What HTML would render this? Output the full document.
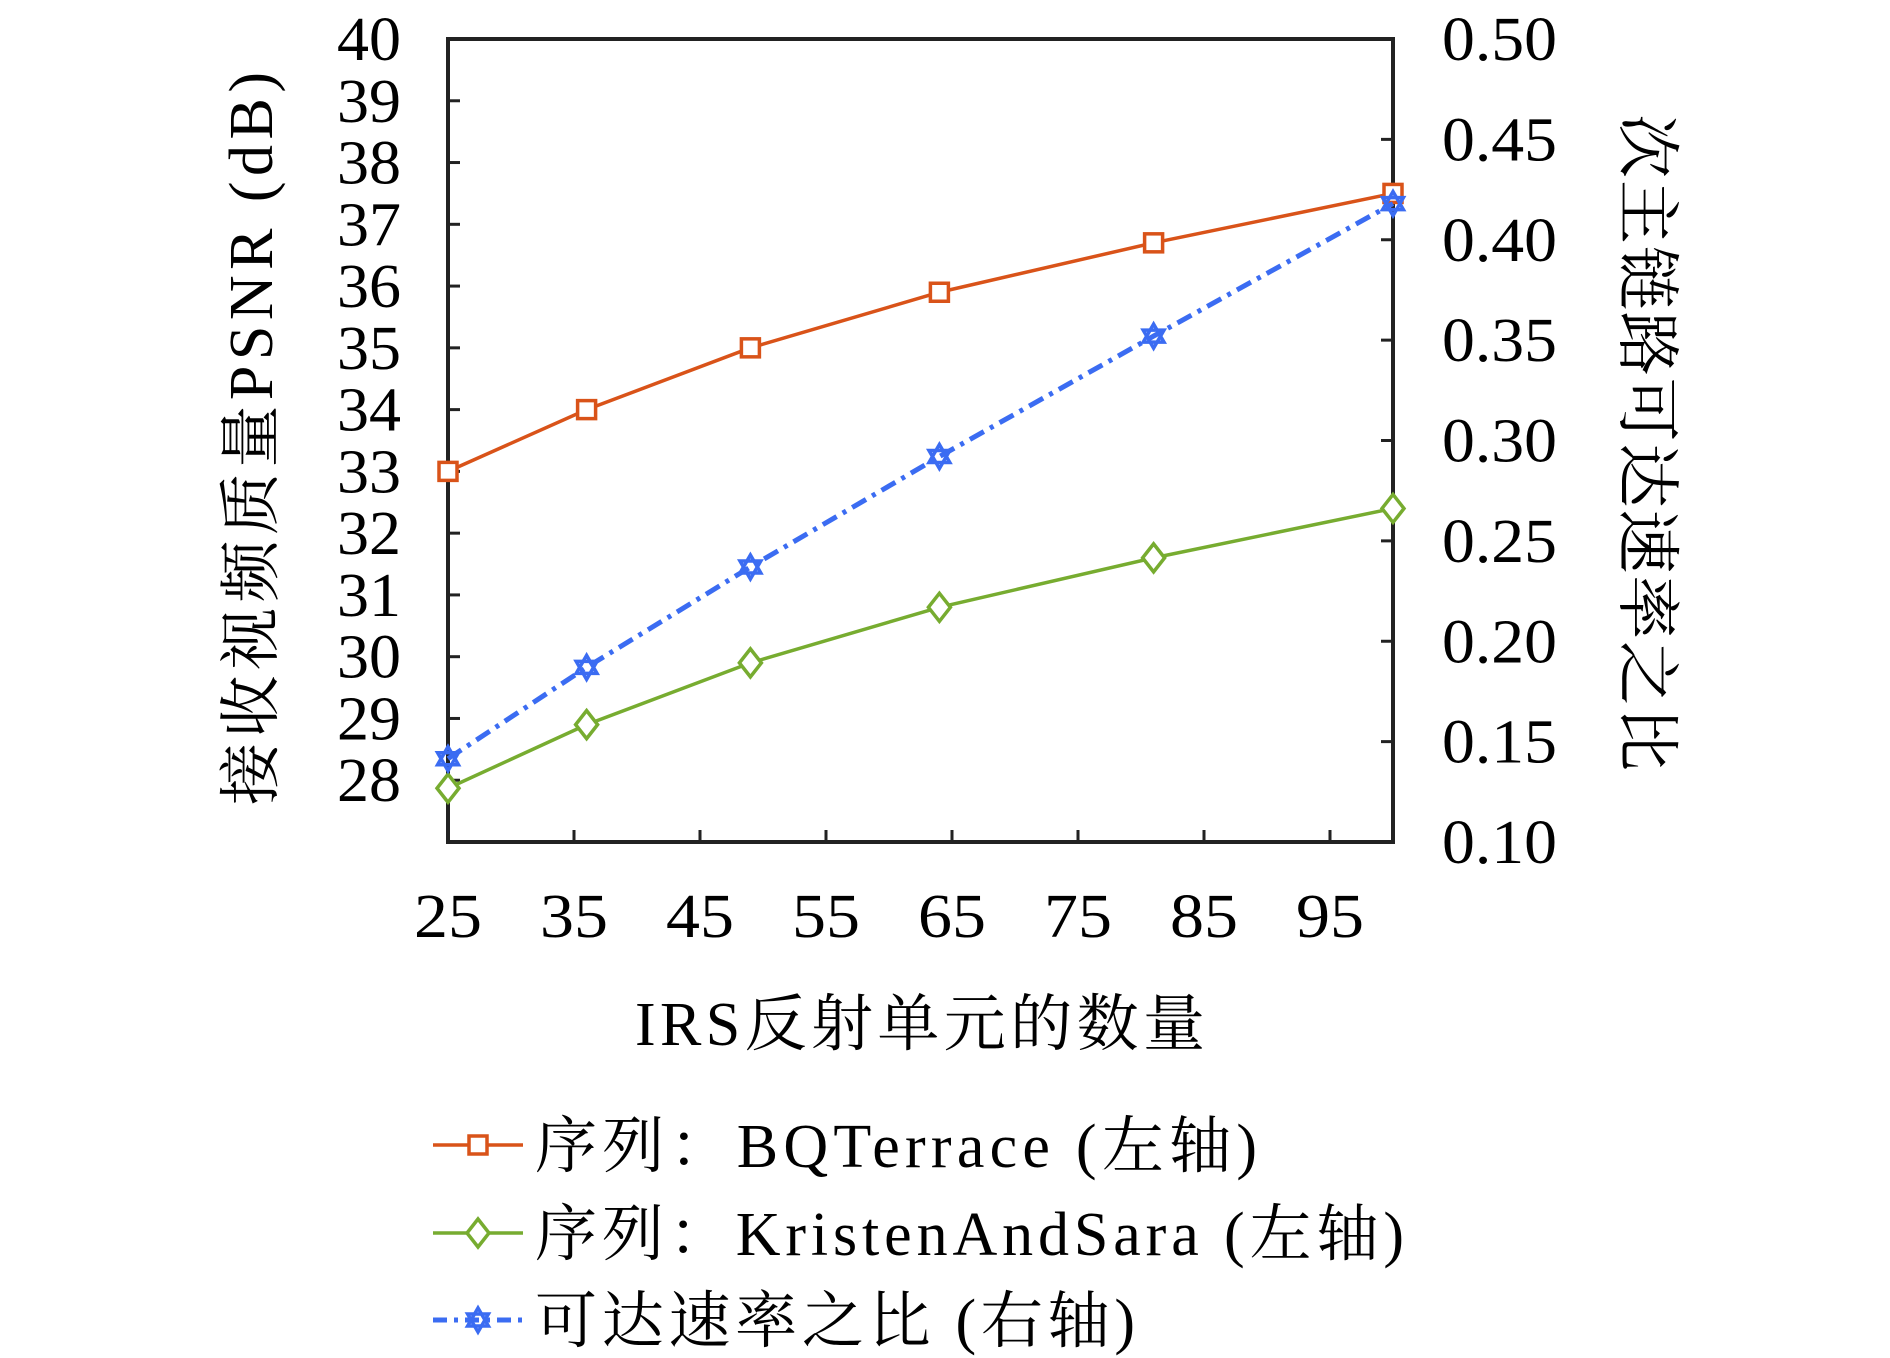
<!DOCTYPE html>
<html><head><meta charset="utf-8"><style>
html,body{margin:0;padding:0;background:#fff;}
svg{display:block;}
text{font-family:"Liberation Serif","Noto Serif CJK SC",serif;fill:#000;}
</style></head><body>
<svg id="chart" width="1890" height="1358" viewBox="0 0 1890 1358" xmlns="http://www.w3.org/2000/svg">
</svg>
<script>
const xValues=[25,36,49,64,81,100];
const bqValues=[33.0,34.0,35.0,35.9,36.7,37.5];
const ksValues=[27.87,28.9,29.9,30.8,31.6,32.4];
const rateValues=[0.1415,0.187,0.237,0.292,0.352,0.418];
const xTicks=[25,35,45,55,65,75,85,95];
const leftTicks=[27,28,29,30,31,32,33,34,35,36,37,38,39,40];
const leftLabels=["","28","29","30","31","32","33","34","35","36","37","38","39","40"];
const rightTicks=[0.10,0.15,0.20,0.25,0.30,0.35,0.40,0.45,0.50];
const rightLabels=["0.10","0.15","0.20","0.25","0.30","0.35","0.40","0.45","0.50"];

const L=448,R=1393,T=39,B=842;
const sx=v=>L+(v-25)/(100-25)*(R-L);
const syL=v=>B-(v-27)/(40-27)*(B-T);
const syR=v=>B-(v-0.10)/(0.50-0.10)*(B-T);
const NS="http://www.w3.org/2000/svg";
const svg=document.getElementById('chart');
function mk(tag,attrs,parent){const e=document.createElementNS(NS,tag);for(const k in attrs)e.setAttribute(k,attrs[k]);(parent||svg).appendChild(e);return e;}
const C_BQ="#D95319",C_KS="#77AC30",C_R="#3B6CF2";

const box=mk('rect',{x:L,y:T,width:R-L,height:B-T,fill:'none',stroke:'#222','stroke-width':4});



xTicks.forEach(v=>{
  const l=mk('line',{x1:sx(v),x2:sx(v),y1:B,y2:B-12,stroke:'#222','stroke-width':3});
  
  
  const t=mk('text',{x:sx(v),y:937,'font-size':62,'text-anchor':'middle',textLength:68,lengthAdjust:'spacingAndGlyphs'});
  
  
  t.textContent=v;
});
leftTicks.forEach((v,i)=>{
  const l=mk('line',{x1:L,x2:L+12,y1:syL(v),y2:syL(v),stroke:'#222','stroke-width':3});
  
  
  if(leftLabels[i]){
    const t=mk('text',{x:401,y:syL(v)+21,'font-size':62,'text-anchor':'end',textLength:64,lengthAdjust:'spacingAndGlyphs'});
    
    
    t.textContent=leftLabels[i];
  }
});
rightTicks.forEach((v,i)=>{
  const l=mk('line',{x1:R,x2:R-12,y1:syR(v),y2:syR(v),stroke:'#222','stroke-width':3});
  
  
  const t=mk('text',{x:1442,y:syR(v)+21,'font-size':62,'text-anchor':'start',textLength:115,lengthAdjust:'spacingAndGlyphs'});
  
  
  t.textContent=rightLabels[i];
});

function square(x,y,c,name){const e=mk('rect',{x:x-9,y:y-9,width:18,height:18,fill:'#fff',stroke:c,'stroke-width':3.5});}
function diamond(x,y,c,name){const e=mk('polygon',{points:`${x},${y-14} ${x+11},${y} ${x},${y+14} ${x-11},${y}`,fill:'#fff',stroke:c,'stroke-width':3.5});}
function star(x,y,c,name){const r=12;const p1=[0,1,2].map(k=>{const a=-Math.PI/2+k*2*Math.PI/3;return (x+r*Math.cos(a))+','+(y+r*Math.sin(a));}).join(' ');const p2=[0,1,2].map(k=>{const a=Math.PI/2+k*2*Math.PI/3;return (x+r*Math.cos(a))+','+(y+r*Math.sin(a));}).join(' ');
  const g=mk('g',{});
  mk('polygon',{points:p1,fill:'none',stroke:c,'stroke-width':3.5},g);mk('polygon',{points:p2,fill:'none',stroke:c,'stroke-width':3.5},g);}

function series(vals,sy,c,dash,marker,name){
  const pts=vals.map((v,i)=>sx(xValues[i])+','+sy(v)).join(' ');
  const pl=mk('polyline',{points:pts,fill:'none',stroke:c,'stroke-width':dash?5:3.5,'stroke-dasharray':dash||'none'});
  
  
  vals.forEach((v,i)=>marker(sx(xValues[i]),sy(v),c,name+'-point'));
}
series(bqValues,syL,C_BQ,null,square,'bqterrace');
series(ksValues,syL,C_KS,null,diamond,'kristenandsara');
series(rateValues,syR,C_R,'16 7 4 7',star,'rate-ratio');

let t=mk('text',{x:635,y:1045,'font-size':62,'text-anchor':'start',textLength:570});

t.textContent='IRS反射单元的数量';
t=mk('text',{x:-805,y:272,'font-size':62,'text-anchor':'start',transform:'rotate(-90)',textLength:733});

t.textContent='接收视频质量PSNR (dB)';
t=mk('text',{x:114,y:-1625,'font-size':64,'text-anchor':'start',transform:'rotate(90)',textLength:657});

t.textContent='次主链路可达速率之比';

const legY=[1145,1233,1320];
const legText=['序列：BQTerrace (左轴)','序列：KristenAndSara (左轴)','可达速率之比 (右轴)'];
const legLen=[722,869,600];
const legC=[C_BQ,C_KS,C_R];
const legM=[square,diamond,star];
legY.forEach((y,i)=>{
  const l=mk('line',{x1:433,x2:523,y1:y,y2:y,stroke:legC[i],'stroke-width':i==2?5:3.5,'stroke-dasharray':i==2?'14 7 4 7':'none'});
  
  
  legM[i](478,y,legC[i],'legend-marker');
  const tx=mk('text',{x:535,y:y+22,'font-size':62,textLength:legLen[i]});
  
  
  tx.textContent=legText[i];
});
</script>
</body></html>
